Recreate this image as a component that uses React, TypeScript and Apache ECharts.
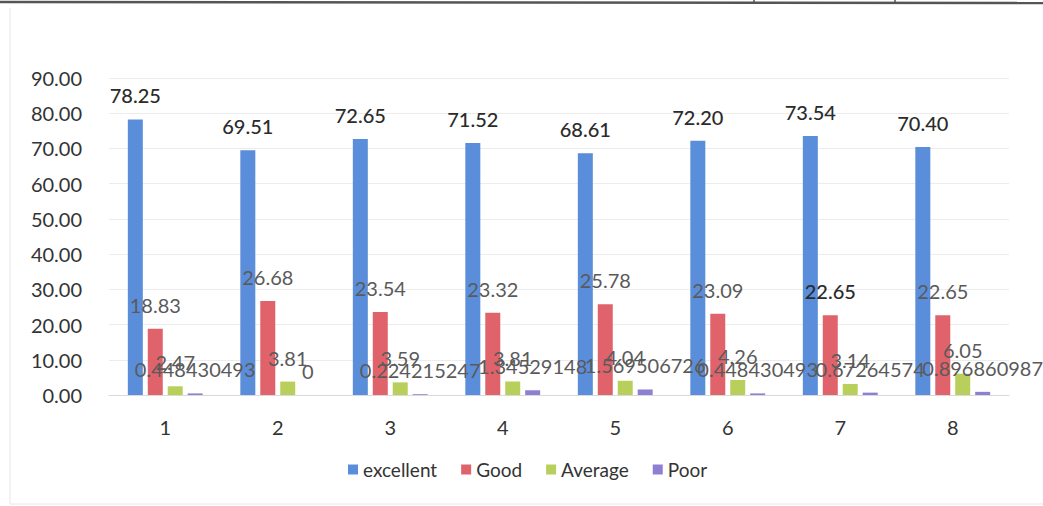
import React, { useEffect, useRef } from "react";
import * as echarts from "echarts";

const categories = ["1", "2", "3", "4", "5", "6", "7", "8"];
const excellent = [78.25, 69.51, 72.65, 71.52, 68.61, 72.2, 73.54, 70.4];
const good = [18.83, 26.68, 23.54, 23.32, 25.78, 23.09, 22.65, 22.65];
const average = [2.47, 3.81, 3.59, 3.81, 4.04, 4.26, 3.14, 6.05];
const poor = [0.448430493, 0, 0.224215247, 1.34529148, 1.569506726, 0.448430493, 0.67264574, 0.896860987];
const yTicks = { min: 0, max: 90, interval: 10 };

const FONT = "Lato";

export default function App() {
  const ref = useRef<HTMLDivElement>(null);
  useEffect(() => {
    if (!ref.current) return;
    const chart = echarts.init(ref.current, null, { renderer: "svg" });
    const mkLabel = (color: string, weight: string | number, fmt: (v: number) => string) => ({
      show: true,
      position: "top",
      distance: 14,
      fontFamily: FONT,
      fontSize: 20,
      color,
      fontWeight: weight,
      formatter: (p: any) => fmt(p.value),
    });
    const fix2 = (v: number) => v.toFixed(2);
    const raw = (v: number) => String(v);
    const mk = (name: string, data: any[], color: string, label: any) => ({
      name,
      type: "bar",
      data,
      barWidth: 15,
      barGap: "33%",
      itemStyle: { color },
      label,
    });
    const goodData = good.map((v, i) =>
      i === 6 ? { value: v, label: { color: "#2b2b2b", fontWeight: 500 } } : v
    );
    chart.setOption({
      animation: false,
      backgroundColor: "#ffffff",
      grid: { left: 109, right: 34, top: 78, bottom: 111, containLabel: false },
      legend: {
        bottom: 22,
        left: 343,
        icon: "rect",
        itemWidth: 10,
        itemHeight: 10,
        itemGap: 24,
        textStyle: { fontFamily: FONT, fontSize: 19, color: "#333" },
        data: ["excellent", "Good", "Average", "Poor"],
      },
      xAxis: {
        type: "category",
        data: categories,
        axisTick: { show: false },
        axisLine: { lineStyle: { color: "#d9d9d9", width: 1 } },
        axisLabel: { fontFamily: FONT, fontSize: 20, color: "#333", margin: 22 },
      },
      yAxis: {
        type: "value",
        min: yTicks.min,
        max: yTicks.max,
        interval: yTicks.interval,
        axisLine: { show: false },
        axisTick: { show: false },
        splitLine: { lineStyle: { color: "#ececec", width: 1 } },
        axisLabel: {
          fontFamily: FONT,
          fontSize: 20,
          color: "#333",
          margin: 27,
          formatter: (v: number) => v.toFixed(2),
        },
      },
      series: [
        mk("excellent", excellent, "#5A8EDB", mkLabel("#2b2b2b", 500, fix2)),
        mk("Good", goodData, "#E0636B", mkLabel("#5a5a5a", 400, fix2)),
        mk("Average", average, "#B9CF5B", mkLabel("#5a5a5a", 400, fix2)),
        mk("Poor", poor, "#8F7FD3", mkLabel("#5a5a5a", 400, raw)),
      ],
      graphic: [
        { type: "line", shape: { x1: 0, y1: 2, x2: 1043, y2: 3 }, style: { stroke: "#555", lineWidth: 2.5 } },
        { type: "line", shape: { x1: 754, y1: 0, x2: 754, y2: 4 }, style: { stroke: "#555", lineWidth: 1.5 } },
        { type: "line", shape: { x1: 895, y1: 0, x2: 895, y2: 4 }, style: { stroke: "#555", lineWidth: 1.5 } },
        { type: "line", shape: { x1: 10, y1: 8, x2: 10, y2: 504 }, style: { stroke: "#e6e6e6", lineWidth: 1 } },
        { type: "line", shape: { x1: 10, y1: 504, x2: 1043, y2: 504 }, style: { stroke: "#e6e6e6", lineWidth: 1 } },
      ],
    });
    return () => chart.dispose();
  }, []);
  return <div ref={ref} style={{ width: 1043, height: 506, position: "absolute", left: 0, top: 0 }} />;
}
